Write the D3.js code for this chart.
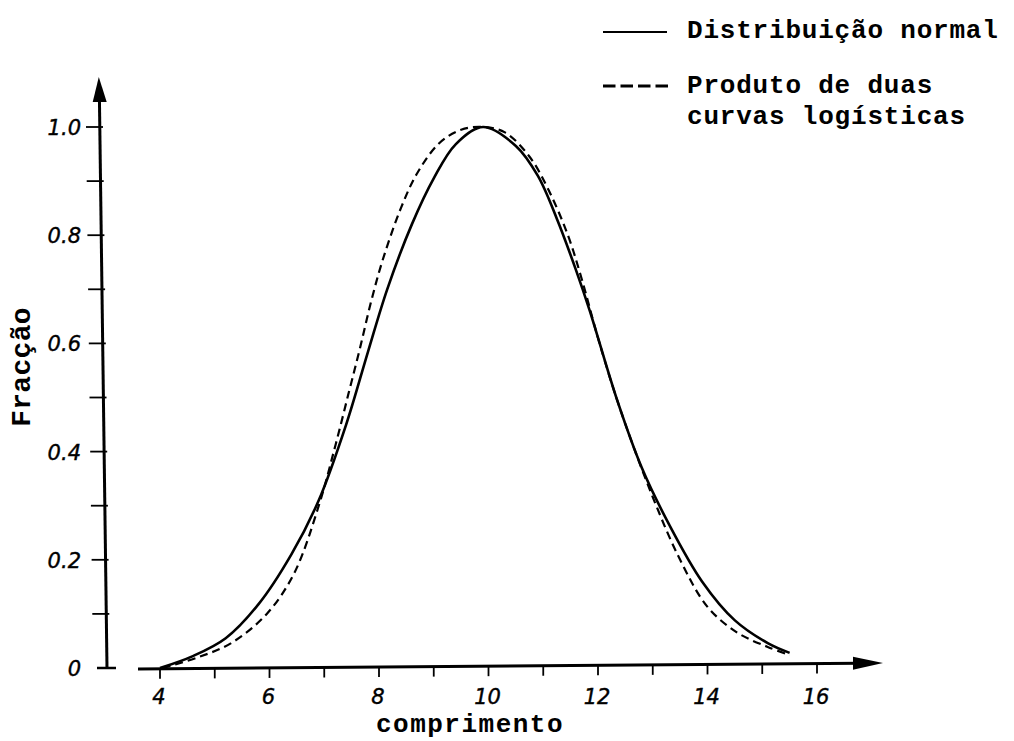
<!DOCTYPE html>
<html>
<head>
<meta charset="utf-8">
<script src="https://cdn.jsdelivr.net/npm/d3@7"></script>
<style>
  html, body { margin: 0; padding: 0; background: #fff; }
  svg { display: block; }
  .tick-label { font-family: "DejaVu Sans", "Liberation Sans", Arial, sans-serif; font-style: italic; font-size: 21px; fill: #000; stroke: #000; stroke-width: 0.4px; }
  .mono { font-family: "Liberation Mono", "Courier New", monospace; font-weight: bold; fill: #000; }
</style>
</head>
<body>
<svg id="chart" width="1014" height="741"></svg>
<script>
// ---- data ----
const xTicks = [4, 6, 8, 10, 12, 14, 16];
const xMinorTicks = [5, 7, 9, 11, 13, 15];
const yTicks = [0, 0.2, 0.4, 0.6, 0.8, 1.0];
const yTickLabels = ["0", "0.2", "0.4", "0.6", "0.8", "1.0"];
const yMinorTicks = [0.1, 0.3, 0.5, 0.7, 0.9];

const normalX = [4.0, 4.6, 5.2, 5.8, 6.4, 6.9, 7.4, 7.8, 8.15, 8.6, 9.0, 9.4, 9.9, 10.5, 10.9, 11.25, 11.6, 11.85, 12.35, 12.8, 13.3, 13.9, 14.5, 15.1, 15.5];
const normalY = [0.0, 0.022, 0.055, 0.118, 0.21, 0.31, 0.45, 0.585, 0.70, 0.82, 0.905, 0.968, 1.0, 0.965, 0.91, 0.83, 0.735, 0.66, 0.495, 0.37, 0.265, 0.16, 0.088, 0.046, 0.028];

const logisticX = [4.05, 4.7, 5.3, 5.95, 6.45, 6.9, 7.2, 7.45, 7.65, 7.85, 8.07, 8.4, 8.7, 9.1, 9.5, 9.9, 10.3, 10.75, 11.1, 11.45, 11.7, 12.0, 12.4, 13.0, 13.5, 14.0, 14.55, 15.1, 15.5];
const logisticY = [0.0, 0.02, 0.046, 0.10, 0.175, 0.30, 0.41, 0.51, 0.59, 0.675, 0.755, 0.85, 0.915, 0.97, 0.995, 1.0, 0.99, 0.945, 0.883, 0.80, 0.72, 0.61, 0.48, 0.316, 0.20, 0.113, 0.065, 0.039, 0.024];

const legendLabels = ["Distribuição normal", "Produto de duas", "curvas logísticas"];
const xTitle = "comprimento";
const yTitle = "Fracção";

// ---- drawing ----
const svg = d3.select("#chart");
const x = d3.scaleLinear().domain([4, 16]).range([160, 817]);
const y = d3.scaleLinear().domain([0, 1]).range([668, 127]);
// the y axis is slightly tilted in the reference
const yAxisX = d3.scaleLinear().domain([0, 1]).range([107, 100]);
// the x axis is slightly tilted in the reference
const xAxisY = d3.scaleLinear().domain([138, 883]).range([669, 663]);

const g = svg.append("g");

// y axis line
g.append("line")
  .attr("x1", yAxisX(0)).attr("y1", 668)
  .attr("x2", yAxisX(1.09)).attr("y2", 95)
  .attr("stroke", "#000").attr("stroke-width", 3);
// y arrow head
g.append("path")
  .attr("d", `M${yAxisX(1.1) - 0.5},77 L${yAxisX(1.04) - 7},102 L${yAxisX(1.04) + 7},102 Z`)
  .attr("fill", "#000");
// y axis foot
g.append("line")
  .attr("x1", 97).attr("x2", 116).attr("y1", 668).attr("y2", 668)
  .attr("stroke", "#000").attr("stroke-width", 2.5);

// y ticks
g.selectAll(".ytick").data(yTicks.slice(1).concat(yMinorTicks)).enter().append("line")
  .attr("x1", d => yAxisX(d) - 14).attr("x2", d => yAxisX(d) + 3)
  .attr("y1", d => y(d)).attr("y2", d => y(d))
  .attr("stroke", "#000").attr("stroke-width", 1.8);

// y tick labels
g.selectAll(".ylabel").data(yTicks).enter().append("text")
  .attr("class", "tick-label")
  .attr("x", 81).attr("y", d => y(d) + 8)
  .attr("text-anchor", "end")
  .text((d, i) => yTickLabels[i]);

// x axis line
g.append("line")
  .attr("x1", 138).attr("y1", xAxisY(138))
  .attr("x2", 860).attr("y2", xAxisY(860))
  .attr("stroke", "#000").attr("stroke-width", 3);
// x arrow head
g.append("path")
  .attr("d", `M883,${xAxisY(883)} L853,${xAxisY(853) - 6.5} L853,${xAxisY(853) + 6.5} Z`)
  .attr("fill", "#000");

// x ticks
g.selectAll(".xtick").data(xTicks.concat(xMinorTicks)).enter().append("line")
  .attr("x1", d => x(d)).attr("x2", d => x(d))
  .attr("y1", d => xAxisY(x(d))).attr("y2", d => xAxisY(x(d)) + 10)
  .attr("stroke", "#000").attr("stroke-width", 1.8);

// x tick labels
g.selectAll(".xlabel").data(xTicks).enter().append("text")
  .attr("class", "tick-label")
  .attr("x", d => x(d) - 1).attr("y", 704)
  .attr("text-anchor", "middle")
  .text(d => d);

// axis titles
g.append("text").attr("class", "mono")
  .attr("x", 470).attr("y", 732)
  .attr("text-anchor", "middle")
  .style("font-size", "26px").style("letter-spacing", "1.5px")
  .text(xTitle);

g.append("text").attr("class", "mono")
  .attr("transform", "translate(30,367) rotate(-90)")
  .attr("text-anchor", "middle")
  .style("font-size", "28px").style("letter-spacing", "0.3px")
  .text(yTitle);

// curves
const line = d3.line()
  .x(d => x(d[0]))
  .y(d => y(d[1]))
  .curve(d3.curveCatmullRom.alpha(0.5));

const normalData = normalX.map((v, i) => [v, normalY[i]]);
const logisticData = logisticX.map((v, i) => [v, logisticY[i]]);

g.append("path")
  .datum(logisticData)
  .attr("d", line)
  .attr("fill", "none")
  .attr("stroke", "#000")
  .attr("stroke-width", 2.2)
  .attr("stroke-dasharray", "8,5");

g.append("path")
  .datum(normalData)
  .attr("d", line)
  .attr("fill", "none")
  .attr("stroke", "#000")
  .attr("stroke-width", 2.6);

// legend
g.append("line")
  .attr("x1", 603).attr("x2", 667).attr("y1", 32).attr("y2", 32)
  .attr("stroke", "#000").attr("stroke-width", 2);
g.append("line")
  .attr("x1", 603).attr("x2", 668).attr("y1", 86).attr("y2", 86)
  .attr("stroke", "#000").attr("stroke-width", 3)
  .attr("stroke-dasharray", "12.5,5");

const legendY = [38, 93, 124];
g.selectAll(".legtext").data(legendLabels).enter().append("text")
  .attr("class", "mono")
  .attr("x", 687).attr("y", (d, i) => legendY[i])
  .style("font-size", "26px").style("letter-spacing", "0.8px")
  .text(d => d);
</script>
</body>
</html>
